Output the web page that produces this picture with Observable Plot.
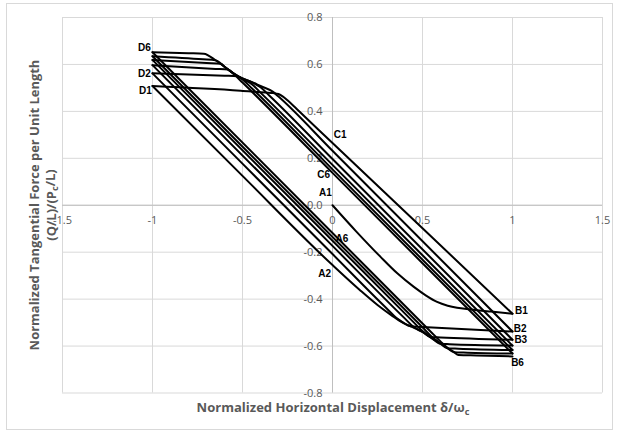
<!DOCTYPE html>
<html><head><meta charset="utf-8">
<script src="https://cdn.jsdelivr.net/npm/d3@7"></script>
<script src="https://cdn.jsdelivr.net/npm/@observablehq/plot@0.6"></script>
<style>body{margin:0;background:#fff}</style>
</head><body><div id="chart"></div>
<script>
// ---- tick values and labels ----
const xTicks = [-1.5, -1, -0.5, 0, 0.5, 1, 1.5];
const xTickLabels = ["-1.5", "-1", "-0.5", "0", "0.5", "1", "1.5"];
const yTicks = [-0.8, -0.6, -0.4, -0.2, 0, 0.2, 0.4, 0.6, 0.8];
const yTickLabels = ["-0.8", "-0.6", "-0.4", "-0.2", "0.0", "0.2", "0.4", "0.6", "0.8"];

// ---- hysteresis branches [displacement, force] ----
const load1 = [[0,0],[0.13,-0.11],[0.267,-0.22],[0.36,-0.29],[0.452,-0.348],[0.52,-0.385],[0.581,-0.412],[0.64,-0.428],[0.692,-0.437],[0.767,-0.444],[0.88,-0.453],[1,-0.462]];
const up1   = [[1,-0.462],[0.5,-0.098],[0,0.265],[-0.2,0.411],[-0.25,0.447],[-0.275,0.463],[-0.3,0.474],[-0.33,0.478],[-0.372,0.48],[-0.51,0.488],[-1,0.508]];
const down1 = [[-1,0.508],[-0.5,0.125],[0,-0.255],[0.15,-0.36],[0.25,-0.425],[0.33,-0.47],[0.39,-0.5],[0.433,-0.516],[0.5,-0.519],[1,-0.538]];
const up2   = [[1,-0.538],[0,0.232],[-0.3,0.463],[-0.33,0.483],[-0.4,0.508],[-0.45,0.526],[-0.5,0.54],[-0.53,0.55],[-0.6,0.552],[-1,0.562]];
const down2 = [[-1,0.562],[0,-0.208],[0.3,-0.439],[0.36,-0.483],[0.4,-0.503],[0.45,-0.521],[0.5,-0.54],[0.544,-0.561],[0.6,-0.563],[1,-0.573]];
const up3   = [[1,-0.573],[0,0.197],[-0.35,0.467],[-0.4,0.503],[-0.45,0.525],[-0.5,0.54],[-0.55,0.562],[-0.58,0.578],[-0.65,0.581],[-1,0.597]];
const down3 = [[-1,0.597],[0,-0.173],[0.4,-0.481],[0.45,-0.518],[0.5,-0.54],[0.55,-0.566],[0.6,-0.59],[0.65,-0.592],[1,-0.598]];
const up4   = [[1,-0.598],[0,0.172],[-0.4,0.48],[-0.45,0.517],[-0.5,0.538],[-0.55,0.562],[-0.6,0.59],[-0.62,0.603],[-0.7,0.606],[-1,0.619]];
const down4 = [[-1,0.619],[0,-0.151],[0.45,-0.498],[0.5,-0.536],[0.55,-0.564],[0.6,-0.59],[0.637,-0.609],[0.7,-0.611],[1,-0.617]];
const up5   = [[1,-0.617],[0,0.153],[-0.45,0.5],[-0.5,0.536],[-0.55,0.561],[-0.6,0.59],[-0.65,0.618],[-0.72,0.622],[-1,0.635]];
const down5 = [[-1,0.635],[0,-0.135],[0.5,-0.52],[0.55,-0.559],[0.6,-0.588],[0.637,-0.608],[0.674,-0.626],[0.75,-0.628],[1,-0.632]];
const up6   = [[1,-0.632],[0,0.138],[-0.5,0.523],[-0.55,0.56],[-0.6,0.59],[-0.65,0.618],[-0.715,0.646],[-0.8,0.648],[-1,0.652]];
const down6 = [[-1,0.652],[0,-0.118],[0.55,-0.542],[0.6,-0.58],[0.64,-0.608],[0.674,-0.625],[0.7,-0.638],[0.8,-0.64],[1,-0.644]];

// ---- point annotations ----
const pointNames = ["D6","D2","D1","C1","C6","A1","A6","A2","B1","B2","B3","B6"];
const pointX = [-1.045,-1.045,-1.039,0.043,-0.049,-0.04,0.052,-0.044,1.05,1.042,1.046,1.028];
const pointY = [0.671,0.559,0.488,0.302,0.128,0.054,-0.145,-0.291,-0.451,-0.528,-0.574,-0.673];

const branches = {load1, up1, down1, up2, down2, up3, down3, up4, down4, up5, down5, up6, down6};
const rows = [];
for (const [name, pts] of Object.entries(branches)) {
  const sorted = pts.slice().sort((a, b) => a[0] - b[0]);
  for (const [x, y] of sorted) rows.push({branch: name, x, y});
}
const labels = pointNames.map((t, i) => ({t, x: pointX[i], y: pointY[i]}));

const FONT = "'Open Sans', 'Liberation Sans', sans-serif";
const chart = Plot.plot({
  width: 618, height: 433,
  marginLeft: 62, marginRight: 16, marginTop: 17, marginBottom: 40.5,
  x: {domain: [-1.5, 1.5], axis: null},
  y: {domain: [-0.8, 0.8], axis: null},
  style: {fontFamily: FONT, background: "#fff"},
  marks: [
    Plot.ruleX(xTicks, {x: d => d, stroke: "#d9d9d9", strokeWidth: 1}),
    Plot.ruleY(yTicks, {y: d => d, stroke: "#d9d9d9", strokeWidth: 1}),
    Plot.ruleX([0], {x: d => d, stroke: "#bfbfbf", strokeWidth: 1}),
    Plot.ruleY([0], {y: d => d, stroke: "#bfbfbf", strokeWidth: 1}),
    Plot.text(xTicks, {x: d => d, y: () => 0, text: (d, i) => xTickLabels[i], dy: 15, fill: "#595959", fontSize: 11}),
    Plot.text(yTicks, {x: () => 0, y: d => d, text: (d, i) => yTickLabels[i], dx: -10, textAnchor: "end", fill: "#595959", fontSize: 11}),
    Plot.line(rows, {x: "x", y: "y", z: "branch", curve: "monotone-x", stroke: "black", strokeWidth: 2}),
    Plot.text(labels, {x: "x", y: "y", text: "t", fontWeight: "bold", fontSize: 10, fill: "black", fontFamily: "'Liberation Sans', sans-serif"})
  ]
});
document.getElementById("chart").appendChild(chart);

// chart border and axis titles
const svg = d3.select(chart);
svg.insert("rect", ":first-child").attr("x", 6.5).attr("y", 3.5).attr("width", 606).attr("height", 426)
  .attr("fill", "none").attr("stroke", "#d9d9d9");
function fit(sel, target) {
  const len = sel.node().getComputedTextLength();
  const fs = parseFloat(sel.attr("font-size"));
  sel.attr("font-size", (fs * target / len).toFixed(2));
}
const tstyle = s => s.attr("font-family", FONT).attr("font-weight", 700).attr("fill", "#595959").attr("font-size", 13).attr("text-anchor", "middle");
const yt1 = svg.append("text").attr("transform", "translate(34,205) rotate(-90)").attr("dy", "0.35em").call(tstyle)
  .text("Normalized Tangential Force per Unit Length");
fit(yt1, 291);
const yt2 = svg.append("text").attr("transform", "translate(51,205) rotate(-90)").attr("dy", "0.35em").call(tstyle)
  .attr("font-size", yt1.attr("font-size"));
yt2.append("tspan").text("(Q/L)/(P");
yt2.append("tspan").attr("font-size", "0.7em").attr("dy", "0.25em").text("c");
yt2.append("tspan").attr("dy", "-0.25em").text("/L)");
const xt = svg.append("text").attr("x", 333).attr("y", 412).call(tstyle);
xt.append("tspan").text("Normalized Horizontal Displacement δ/ω");
xt.append("tspan").attr("font-size", "0.7em").attr("dy", "0.3em").text("c");
fit(xt, 273);
</script>
</body></html>
